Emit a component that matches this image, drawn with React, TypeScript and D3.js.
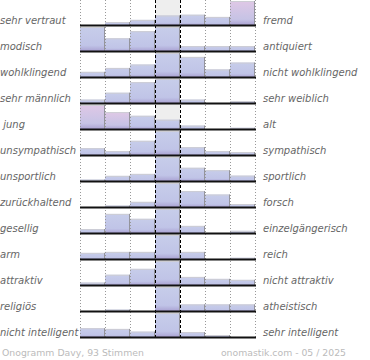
import { useEffect, useRef } from "react";
import * as d3 from "d3";

const WIDTH = 370;
const HEIGHT = 360;

const leftLabels = [
  "sehr vertraut",
  "modisch",
  "wohlklingend",
  "sehr männlich",
  " jung",
  "unsympathisch",
  "unsportlich",
  "zurückhaltend",
  "gesellig",
  "arm",
  "attraktiv",
  "religiös",
  "nicht intelligent",
];

const rightLabels = [
  "fremd",
  "antiquiert",
  "nicht wohlklingend",
  "sehr weiblich",
  "alt",
  "sympathisch",
  "sportlich",
  "forsch",
  "einzelgängerisch",
  "reich",
  "nicht attraktiv",
  "atheistisch",
  "sehr intelligent",
];

// share per answer column, relative to the row's largest column (0..100)
const vertraut = [0, 14, 23, 41, 44, 35, 100];
const modisch = [100, 54, 83, 100, 22, 22, 22];
const wohlklingend = [23, 39, 53, 100, 84, 33, 61];
const maennlich = [16, 44, 87, 100, 16, 0, 10];
const jung = [100, 71, 56, 40, 16, 0, 7];
const sympathisch = [30, 18, 60, 100, 34, 18, 14];
const sportlich = [8, 23, 31, 100, 56, 46, 24];
const zurueckhaltend = [0, 8, 23, 100, 67, 53, 14];
const gesellig = [18, 80, 60, 100, 31, 0, 11];
const arm = [27, 31, 31, 100, 31, 0, 7];
const attraktiv = [12, 44, 68, 100, 35, 27, 23];
const religioes = [0, 8, 0, 100, 29, 29, 29];
const intelligent = [38, 35, 24, 100, 22, 10, 0];

const rows = [
  vertraut,
  modisch,
  wohlklingend,
  maennlich,
  jung,
  sympathisch,
  sportlich,
  zurueckhaltend,
  gesellig,
  arm,
  attraktiv,
  religioes,
  intelligent,
];

const columns = d3.range(7);
const footerLeft = "Onogramm Davy, 93 Stimmen";
const footerRight = "onomastik.com - 05 / 2025";

export default function App() {
  const svgRef = useRef<SVGSVGElement | null>(null);

  useEffect(() => {
    document.body.style.margin = "0";
    const svg = d3.select(svgRef.current);
    svg.selectAll("*").remove();

    const x = d3.scaleBand<number>().domain(columns).range([80, 255]);
    const row = d3.scaleBand<number>().domain(d3.range(rows.length)).range([-0.5, 337.5]);
    const h = d3.scaleLinear().domain([0, 100]).range([0, 24.5]);
    const base = (i: number) => (row(i) as number) + row.bandwidth();

    const defs = svg.append("defs");
    const grad = (id: string, stops: [number, string][]) => {
      const g = defs
        .append("linearGradient")
        .attr("id", id)
        .attr("x1", 0)
        .attr("y1", 0)
        .attr("x2", 0)
        .attr("y2", 1);
      stops.forEach(([o, c]) => g.append("stop").attr("offset", o).attr("stop-color", c));
    };
    grad("barBlue", [
      [0, "#c7cdea"],
      [0.75, "#c0c4e7"],
      [1, "#a89fd1"],
    ]);
    grad("barPink", [
      [0, "#dfc8e6"],
      [0.75, "#c6c3e5"],
      [1, "#a89fd1"],
    ]);

    // light band behind the middle column
    svg
      .append("rect")
      .attr("x", x(3) as number)
      .attr("y", 0)
      .attr("width", x.bandwidth())
      .attr("height", base(rows.length - 1))
      .attr("fill", "#eeeeee");

    const plot = svg.append("g");

    rows.forEach((values, i) => {
      const b = base(i);
      const mid = values[3];
      values.forEach((v, j) => {
        if (v <= 0) return;
        const x0 = x(j) as number;
        const top = b - h(v);
        plot
          .append("rect")
          .attr("x", x0)
          .attr("y", top)
          .attr("width", x.bandwidth())
          .attr("height", h(v))
          .attr("fill", v > mid * 1.5 ? "url(#barPink)" : "url(#barBlue)");
        plot
          .append("line")
          .attr("x1", x0)
          .attr("x2", x0 + x.bandwidth())
          .attr("y1", top + 0.5)
          .attr("y2", top + 0.5)
          .attr("stroke", "#cdcdd4")
          .attr("stroke-width", 1);
        plot
          .append("line")
          .attr("x1", x0 + x.bandwidth() - 0.5)
          .attr("x2", x0 + x.bandwidth() - 0.5)
          .attr("y1", top)
          .attr("y2", b)
          .attr("stroke", "#94949c")
          .attr("stroke-width", 1);
      });
    });

    // column separators
    const lastBase = base(rows.length - 1);
    [0, 1, 2, 5, 6, 7].forEach((k) => {
      const xv = k === 7 ? 255 : (x(k) as number);
      svg
        .append("line")
        .attr("x1", xv + 0.5)
        .attr("x2", xv + 0.5)
        .attr("y1", 0)
        .attr("y2", lastBase)
        .attr("stroke", "#999")
        .attr("stroke-width", 1)
        .attr("stroke-dasharray", "1 2");
    });
    [3, 4].forEach((k) => {
      const xv = x(k) as number;
      svg
        .append("line")
        .attr("x1", xv + 0.5)
        .attr("x2", xv + 0.5)
        .attr("y1", 0)
        .attr("y2", lastBase)
        .attr("stroke", "#000")
        .attr("stroke-width", 1)
        .attr("stroke-dasharray", "3 2");
    });

    // baselines + labels
    rows.forEach((_, i) => {
      const b = base(i);
      svg
        .append("line")
        .attr("x1", 80)
        .attr("x2", 256)
        .attr("y1", b)
        .attr("y2", b)
        .attr("stroke", "#111")
        .attr("stroke-width", 2);

      svg
        .append("text")
        .attr("x", 0)
        .attr("y", b - 1.5)
        .attr("font-family", "DejaVu Sans")
        .attr("font-style", "italic")
        .attr("font-size", 10)
        .attr("fill", "#666")
        .style("white-space", "pre")
        .text(leftLabels[i]);

      svg
        .append("text")
        .attr("x", 263)
        .attr("y", b - 1.5)
        .attr("font-family", "DejaVu Sans")
        .attr("font-style", "italic")
        .attr("font-size", 10)
        .attr("fill", "#666")
        .text(rightLabels[i]);
    });

    svg
      .append("text")
      .attr("x", 2)
      .attr("y", 356)
      .attr("font-family", "DejaVu Sans")
      .attr("font-size", 9.3)
      .attr("fill", "#bbb")
      .text(footerLeft);

    svg
      .append("text")
      .attr("x", 346)
      .attr("y", 356)
      .attr("text-anchor", "end")
      .attr("font-family", "DejaVu Sans")
      .attr("font-size", 9.3)
      .attr("fill", "#bbb")
      .text(footerRight);
  }, []);

  return <svg ref={svgRef} width={WIDTH} height={HEIGHT} style={{ display: "block" }} />;
}
